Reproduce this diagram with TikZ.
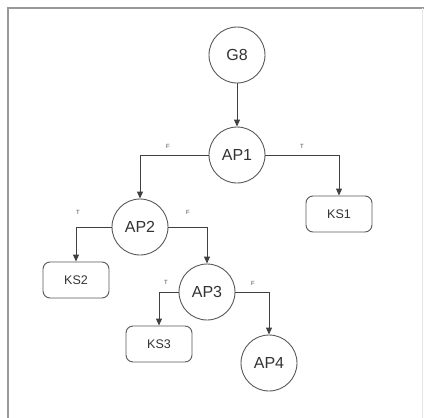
\documentclass[tikz,border=0pt]{standalone}
\usepackage{fontspec}
\setmainfont{Liberation Sans}
\usetikzlibrary{arrows.meta}
\begin{document}
\begin{tikzpicture}[x=1pt,y=-1pt,
  state/.style={circle,draw=black!65,line width=0.9pt,minimum size=56pt,inner sep=0pt,font=\fontsize{16}{16}\selectfont,text=black!80},
  leaf/.style={rectangle,rounded corners=7pt,draw=black!65,line width=0.9pt,minimum width=66pt,minimum height=36pt,inner sep=0pt,font=\fontsize{12.5}{12.5}\selectfont,text=black!80},
  link/.style={draw=black!75,line width=0.9pt,-{Triangle[length=7pt,width=6pt]}},
  tag/.style={font=\fontsize{6}{6}\selectfont,text=black!70,inner sep=0pt}]
  % canvas and frame
  \useasboundingbox (0,0) rectangle (424,418);
  \fill[white] (0,0) rectangle (424,418);
  \draw[black!40,line width=2pt] (8,418) -- (8,8) -- (424,8);
  \draw[black!10,line width=1pt] (422,8) -- (422,418);

  % nodes
  \node[state] (g8)  at (237,55)  {G8};
  \node[state] (ap1) at (237,155) {AP1};
  \node[state] (ap2) at (140,227) {AP2};
  \node[state] (ap3) at (207,292) {AP3};
  \node[state] (ap4) at (269,363) {AP4};
  \node[leaf]  (ks1) at (339,214) {KS1};
  \node[leaf]  (ks2) at (76,280)  {KS2};
  \node[leaf]  (ks3) at (159,344) {KS3};

  % connectors
  \draw[link] (g8) -- (ap1);
  \draw[link] (ap1.west) -| (ap2.north);
  \draw[link] (ap1.east) -| (ks1.north);
  \draw[link] (ap2.west) -| (ks2.north);
  \draw[link] (ap2.east) -| (ap3.north);
  \draw[link] (ap3.west) -| (ks3.north);
  \draw[link] (ap3.east) -| (ap4.north);

  % branch labels
  \node[tag] (l1) at (168,146) {F};
  \node[tag] (l2) at (302,146) {T};
  \node[tag] (l3) at (78,212)  {T};
  \node[tag] (l4) at (188,212) {F};
  \node[tag] (l5) at (166,282) {T};
  \node[tag] (l6) at (253,283) {F};
\end{tikzpicture}
\end{document}
